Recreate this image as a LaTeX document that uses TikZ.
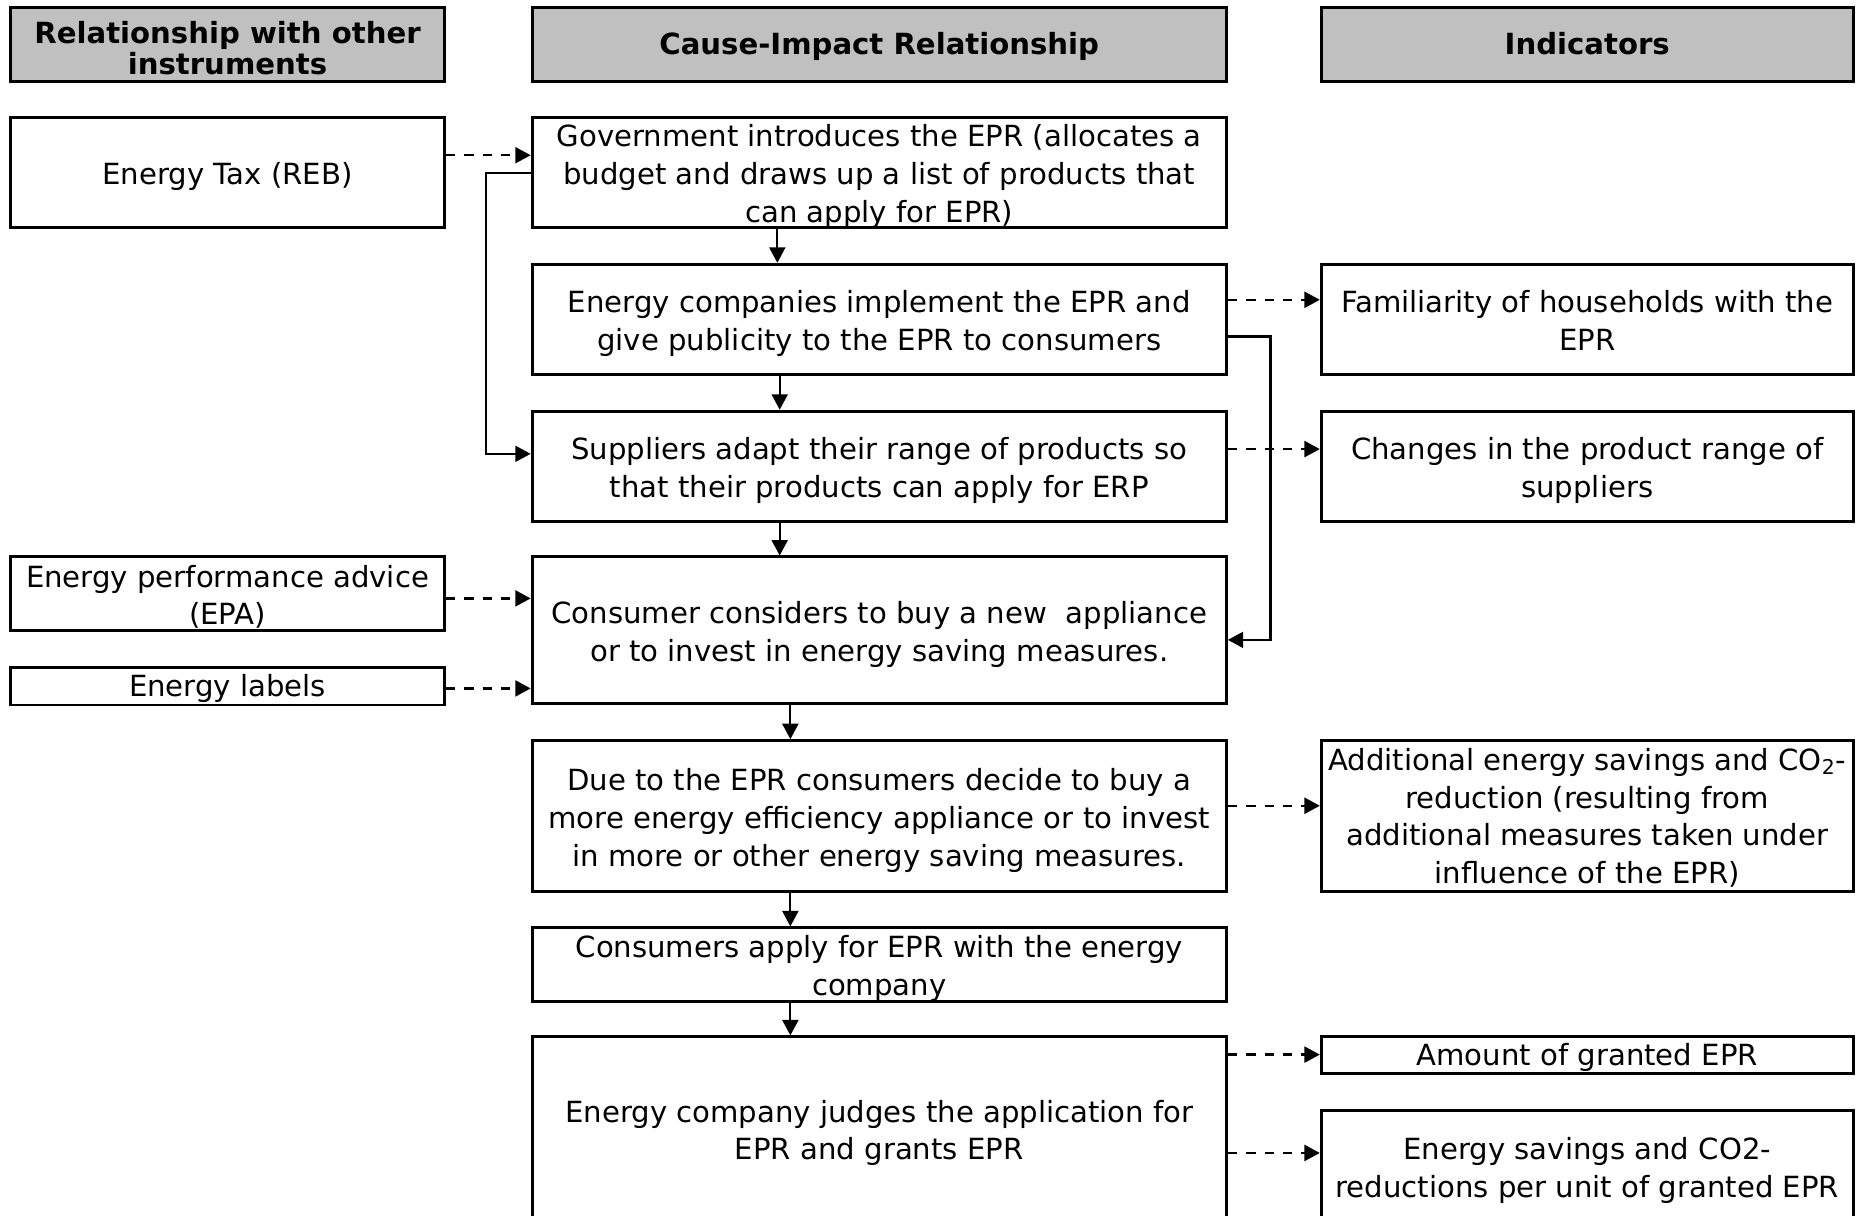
\documentclass[tikz,border=0pt]{standalone}
\usepackage{fontspec}
\setmainfont{DejaVu Sans}
\usetikzlibrary{arrows.meta}
\definecolor{hdrgray}{HTML}{C0C0C0}
\newcommand\stt[1]{\strut#1\strut}
\begin{document}
\begin{tikzpicture}[x=0.02cm,y=-0.02cm,
  box/.style={draw, line width=1.4pt, inner sep=0pt},
  txt/.style={align=center, inner sep=0pt, yshift=-0.08cm,
    font=\fontsize{14}{18.2}\selectfont},
  htxt/.style={align=center, inner sep=0pt, yshift=-0.07cm,
    font=\fontsize{14}{15.2}\selectfont\bfseries},
  lft/.style={box, minimum width=7.32cm},
  mid/.style={box, minimum width=11.72cm},
  rgt/.style={box, minimum width=8.98cm},
  hdr/.style={box, fill=hdrgray, minimum height=1.26cm},
  arr/.style={line width=1pt, -{Triangle[length=0.26cm,width=0.27cm]}},
  darr/.style={arr, line width=1.1pt, dash pattern=on 0.16cm off 0.15cm}]
\useasboundingbox (0,0) rectangle (1568,1026);
% headers
\node[hdr, minimum width=7.32cm, label={[htxt, yshift=-0.07cm]center:{\stt{Relationship with other\\instruments}}}] (h1) at (192,37.5) {};
\node[hdr, minimum width=11.72cm, label={[htxt]center:{\stt{Cause-Impact Relationship}}}] (h2) at (742,37.5) {};
\node[hdr, minimum width=8.98cm, label={[htxt]center:{\stt{Indicators}}}] (h3) at (1339.5,37.5) {};
% left column
\node[lft, minimum height=1.86cm, label={[txt]center:{\stt{Energy Tax (REB)}}}] (tax) at (192,145.5) {};
\node[lft, minimum height=1.24cm, label={[txt]center:{\stt{Energy performance advice\\(EPA)}}}] (epa) at (192,501) {};
\node[lft, minimum height=0.64cm, label={[txt, yshift=0.04cm]center:{\stt{Energy labels}}}] (lab) at (192,579) {};
% middle column
\node[mid, minimum height=1.86cm, label={[txt]center:{\stt{Government introduces the EPR (allocates a\\budget and draws up a list of products that\\can apply for EPR)}}}] (b1) at (742,145.5) {};
\node[mid, minimum height=1.86cm, label={[txt]center:{\stt{Energy companies implement the EPR and\\give publicity to the EPR to consumers}}}] (b2) at (742,269.5) {};
\node[mid, minimum height=1.86cm, label={[txt]center:{\stt{Suppliers adapt their range of products so\\that their products can apply for ERP}}}] (b3) at (742,393.5) {};
\node[mid, minimum height=2.48cm, label={[txt]center:{\stt{Consumer considers to buy a new \ appliance\\or to invest in energy saving measures.}}}] (b4) at (742,532) {};
\node[mid, minimum height=2.54cm, label={[txt]center:{\stt{Due to the EPR consumers decide to buy a\\more energy efficiency appliance or to invest\\in more or other energy saving measures.}}}] (b5) at (742,688.5) {};
\node[mid, minimum height=1.24cm, label={[txt]center:{\stt{Consumers apply for EPR with the energy\\company}}}] (b6) at (742,814) {};
\node[mid, minimum height=3.10cm, label={[txt]center:{\stt{Energy company judges the application for\\EPR and grants EPR}}}] (b7) at (742,952.5) {};
% right column
\node[rgt, minimum height=1.86cm, label={[txt]center:{\stt{Familiarity of households with the\\EPR}}}] (r1) at (1339.5,269.5) {};
\node[rgt, minimum height=1.86cm, label={[txt]center:{\stt{Changes in the product range of\\suppliers}}}] (r2) at (1339.5,393.5) {};
\node[rgt, minimum height=2.54cm, label={[txt, yshift=0.02cm]center:{\stt{Additional energy savings and CO\textsubscript{2}-\\reduction (resulting from\\additional measures taken under\\influence of the EPR)}}}] (r3) at (1339.5,688.5) {};
\node[rgt, minimum height=0.62cm, label={[txt, yshift=0.04cm]center:{\stt{Amount of granted EPR}}}] (r4) at (1339.5,890.5) {};
\node[rgt, minimum height=1.90cm, label={[txt]center:{\stt{Energy savings and CO2-\\reductions per unit of granted EPR}}}] (r5) at (1339.5,984.5) {};
% main flow
\draw[arr] (b1.south -| 656,0) -- (b2.north -| 656,0);
\draw[arr] (b2.south -| 658,0) -- (b3.north -| 658,0);
\draw[arr] (b3.south -| 658,0) -- (b4.north -| 658,0);
\draw[arr] (b4.south -| 667,0) -- (b5.north -| 667,0);
\draw[arr] (b5.south -| 667,0) -- (b6.north -| 667,0);
\draw[arr] (b6.south -| 667,0) -- (b7.north -| 667,0);
% elbows
\draw[arr] (b1.west |- 0,146) -- ++(-38,0) |- (b3.west |- 0,383);
\draw[arr] (b2.east |- 0,284) -- ++(36,0) |- (b4.east |- 0,540);
% dashed relations
\draw[darr] (tax.east |- 0,131) -- (b1.west |- 0,131);
\draw[darr] (epa.east |- 0,505) -- (b4.west |- 0,505);
\draw[darr] (lab.east |- 0,581) -- (b4.west |- 0,581);
\draw[darr] (b2.east |- 0,253) -- (r1.west |- 0,253);
\draw[darr] (b3.east |- 0,379) -- (r2.west |- 0,379);
\draw[darr] (b5.east |- 0,680) -- (r3.west |- 0,680);
\draw[darr] (b7.east |- 0,890) -- (r4.west |- 0,890);
\draw[darr] (b7.east |- 0,973) -- (r5.west |- 0,973);
\end{tikzpicture}
\end{document}
